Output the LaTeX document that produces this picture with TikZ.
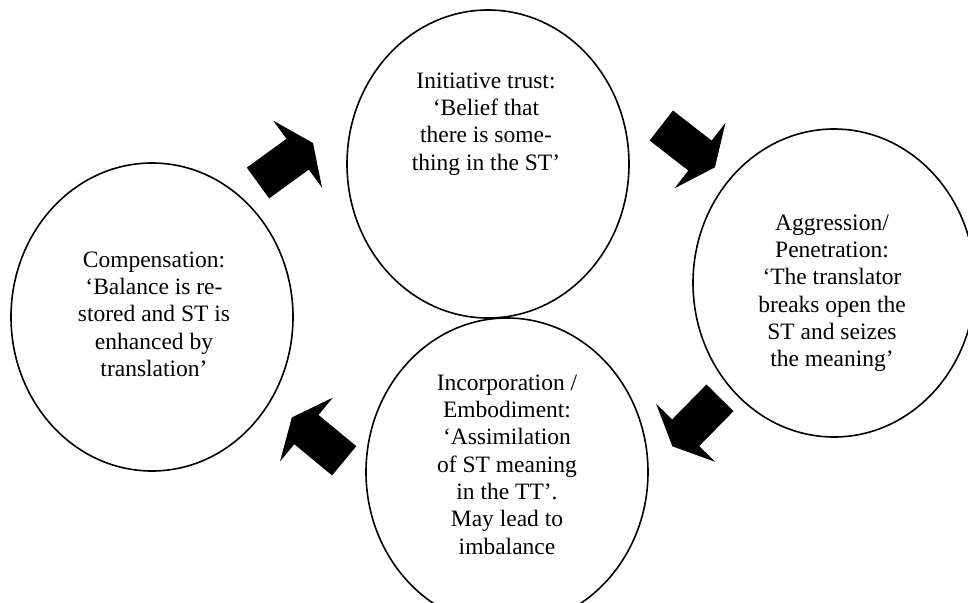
\documentclass[tikz,border=0pt]{standalone}
\usepackage{fontspec}
\setmainfont{Liberation Serif}
\usetikzlibrary{shapes.geometric}
\tikzset{
  stage/.style={draw=black, line width=1.6pt, shape=ellipse, inner sep=0pt,
    minimum width=282pt, minimum height=308pt},
  stagetext/.style={anchor=north, inner sep=0pt, align=center,
    font=\fontsize{23.5}{27.3}\selectfont},
  blockarrow/.style={fill=black}
}
\newcommand{\blkarrow}{(0,-19) -- (49,-19) -- (49,-41.5) -- (68,0) -- (49,41.5) -- (49,19) -- (0,19) -- cycle}
\begin{document}
\begin{tikzpicture}[x=1pt,y=-1pt]
\useasboundingbox (0,0) rectangle (968,602);
\fill[white] (0,0) rectangle (968,602);
\clip (0,0) rectangle (968,602);
% stages
\node[stage] (top) at (488,164) {};
\node[stage] (right) at (834,283) {};
\node[stage] (bottom) at (507,472) {};
\node[stage] (left) at (152,317) {};
% texts
\node[stagetext] (ttop) at (486,68.9) {\strut Initiative trust:\\ ‘Belief that\\ there is some-\\ thing in the ST’};
\node[stagetext] (tright) at (832,210.9) {\strut Aggression/\\ Penetration:\\ ‘The translator\\ breaks open the\\ ST and seizes\\ the meaning’};
\node[stagetext] (tbottom) at (507,370.9) {\strut Incorporation /\\ Embodiment:\\ ‘Assimilation\\ of ST meaning\\ in the TT’.\\ May lead to\\ imbalance};
\node[stagetext] (tleft) at (154,247.9) {\strut Compensation:\\ ‘Balance is re-\\ stored and ST is\\ enhanced by\\ translation’};
% block arrows
\coordinate (a1) at (258,183);
\coordinate (a2) at (661.3,125.5);
\coordinate (a3) at (720,397.8);
\coordinate (a4) at (344.2,460.8);
\fill[blockarrow, shift={(a1)}, rotate=36] \blkarrow;
\fill[blockarrow, shift={(a2)}, rotate=-37.9] \blkarrow;
\fill[blockarrow, shift={(a3)}, rotate=-134.5] \blkarrow;
\fill[blockarrow, shift={(a4)}, rotate=140.4] \blkarrow;
\end{tikzpicture}
\end{document}
